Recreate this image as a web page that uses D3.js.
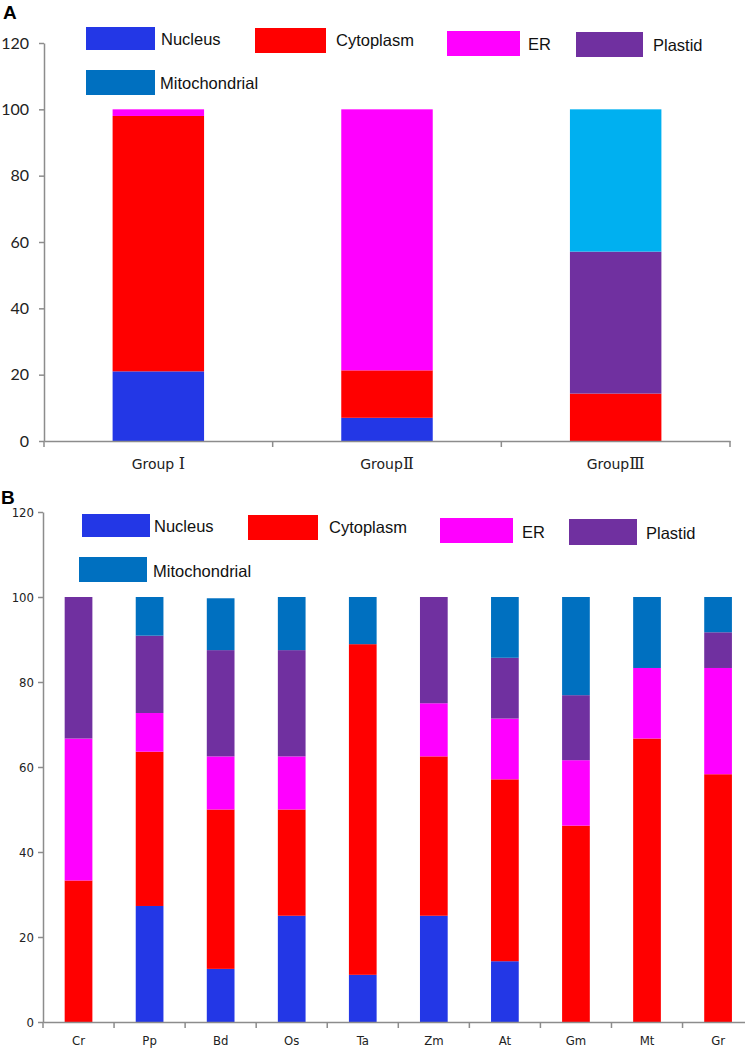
<!DOCTYPE html>
<html><head><meta charset="utf-8">
<script src="https://cdn.jsdelivr.net/npm/d3@7"></script>
<style>body{margin:0;background:#fff}svg{display:block}</style>
</head><body>
<svg id="c" width="745" height="1049"></svg>
<script>
const seriesNames = ["Nucleus","Cytoplasm","ER","Plastid","Mitochondrial"];
const colors = ["#2337E6","#FF0000","#FF00FF","#7030A0","#0070C0"];
const mitoBarColorA = "#00B0F0";

const groupsA = ["Group Ⅰ","GroupⅡ","GroupⅢ"];
const nucleusA = [21, 7, 0];
const cytoplasmA = [77, 14.3, 14.3];
const erA = [2, 78.7, 0];
const plastidA = [0, 0, 42.8];
const mitoA = [0, 0, 42.9];

const speciesB = ["Cr","Pp","Bd","Os","Ta","Zm","At","Gm","Mt","Gr"];
const nucleusB = [0, 27.3, 12.5, 25, 11.1, 25, 14.3, 0, 0, 0];
const cytoplasmB = [33.3, 36.3, 37.5, 25, 77.8, 37.5, 42.8, 46.2, 66.7, 58.3];
const erB = [33.4, 9.1, 12.5, 12.5, 0, 12.5, 14.3, 15.4, 16.6, 25];
const plastidB = [33.3, 18.2, 25, 25, 0, 25, 14.3, 15.3, 0, 8.4];
const mitoB = [0, 9.1, 12.2, 12.5, 11.1, 0, 14.3, 23.1, 16.7, 8.3];

const yTicks = [0,20,40,60,80,100,120];

const svg = d3.select("#c");

function buildRows(cats, arrs){
  return cats.map((c,i)=>{
    const o={cat:c};
    seriesNames.forEach((s,j)=>o[s]=arrs[j][i]);
    return o;
  });
}

function panel(cfg){
  const g = svg.append("g");
  const y = d3.scaleLinear().domain([0,120]).range([cfg.y0, cfg.y120]);
  const x = d3.scaleBand().domain(cfg.cats).range([cfg.x0, cfg.x1]).padding(0);
  const rows = buildRows(cfg.cats, cfg.arrs);
  const stacked = d3.stack().keys(seriesNames)(rows);
  const bw = x.bandwidth()*cfg.barFrac;
  stacked.forEach((layer,li)=>{
    g.selectAll(null).data(layer).enter().append("rect")
      .attr("x", d=>x(d.data.cat)+(x.bandwidth()-bw)/2)
      .attr("width", bw)
      .attr("y", d=>y(d[1]))
      .attr("height", d=>Math.max(0,y(d[0])-y(d[1])))
      .attr("fill", cfg.barColors[li]);
  });
  // y axis
  const ya = g.append("g").attr("transform",`translate(${cfg.x0},0)`)
    .call(d3.axisLeft(y).tickValues(yTicks).tickSize(5).tickSizeOuter(0).tickPadding(cfg.tickPad));
  ya.select(".domain").attr("stroke","#8c8c8c").attr("stroke-width",1.5);
  ya.selectAll(".tick line").attr("stroke","#8c8c8c").attr("stroke-width",1.5);
  ya.selectAll("text").attr("font-family",cfg.tickFont).attr("font-size",cfg.tickSize).attr("fill","#222");
  // x axis
  const xa = g.append("g").attr("transform",`translate(0,${cfg.y0})`)
    .call(d3.axisBottom(x).tickSize(0).tickPadding(cfg.xPad));
  xa.select(".domain").attr("stroke","#8c8c8c").attr("stroke-width",1.5);
  xa.selectAll("text").attr("font-family",cfg.xFont).attr("font-size",cfg.xSize).attr("fill","#222");
  if (cfg.roman) {
    xa.selectAll(".tick text").each(function(d){
      const t = d3.select(this);
      const m = d.match(/^(Group\s?)(.*)$/);
      t.text(null);
      t.append("tspan").text(m[1]);
      t.append("tspan").attr("font-family","DejaVu Serif, Liberation Serif, serif").attr("font-size",cfg.xSize+2).text(m[2]);
    });
  }
  // boundary ticks
  const bounds = cfg.cats.map(c=>x(c)).concat([cfg.x1]);
  g.selectAll(null).data(bounds).enter().append("line")
    .attr("x1",d=>d).attr("x2",d=>d).attr("y1",cfg.y0).attr("y2",cfg.y0+6)
    .attr("stroke","#8c8c8c").attr("stroke-width",1.5);
  // legend
  cfg.legend.forEach((L,i)=>{
    g.append("rect").attr("x",L.rx).attr("y",L.ry).attr("width",L.rw).attr("height",L.rh)
      .attr("fill",colors[i]);
    g.append("text").attr("x",L.tx).attr("y",L.ty).attr("dy","0.35em")
      .attr("font-family","Liberation Sans, Arial, sans-serif").attr("font-size",cfg.legSize)
      .attr("fill","#111").text(seriesNames[i]);
  });
  svg.append("text").attr("x",cfg.labX).attr("y",cfg.labY)
    .attr("font-family","Liberation Sans, Arial, sans-serif").attr("font-weight","bold")
    .attr("font-size",19).text(cfg.label);
}

panel({
  label:"A", labX:3, labY:19,
  cats:groupsA, arrs:[nucleusA,cytoplasmA,erA,plastidA,mitoA],
  barColors:[colors[0],colors[1],colors[2],colors[3],mitoBarColorA],
  x0:44, x1:730, y0:441, y120:43, barFrac:0.4, roman:true,
  tickFont:"Lato, Open Sans, sans-serif", tickSize:16, tickPad:10,
  xFont:"DejaVu Sans, sans-serif", xSize:14, xPad:18,
  legSize:16.5,
  legend:[
    {rx:86,ry:27,rw:69,rh:23,tx:161,ty:39},
    {rx:255,ry:28,rw:71,rh:25,tx:336,ty:40},
    {rx:447,ry:31,rw:73,rh:25,tx:528,ty:44},
    {rx:576,ry:32,rw:67,rh:25,tx:653,ty:45},
    {rx:86,ry:70,rw:69,rh:25,tx:160,ty:83}
  ]
});

panel({
  label:"B", labX:1, labY:504,
  cats:speciesB, arrs:[nucleusB,cytoplasmB,erB,plastidB,mitoB],
  barColors:colors,
  x0:43, x1:753.6, y0:1022, y120:512, barFrac:0.39,
  tickFont:"DejaVu Sans Condensed, Liberation Sans Narrow, sans-serif", tickSize:13, tickPad:4,
  xFont:"DejaVu Sans Condensed, Liberation Sans Narrow, sans-serif", xSize:13, xPad:14,
  legSize:16.5,
  legend:[
    {rx:82,ry:514,rw:68,rh:23,tx:154,ty:526},
    {rx:248,ry:515,rw:70,rh:25,tx:329,ty:527},
    {rx:440,ry:518,rw:73,rh:25,tx:522,ty:532},
    {rx:569,ry:519,rw:68,rh:26,tx:646,ty:533},
    {rx:79,ry:557,rw:68,rh:25,tx:153,ty:571}
  ]
});
</script>
</body></html>
